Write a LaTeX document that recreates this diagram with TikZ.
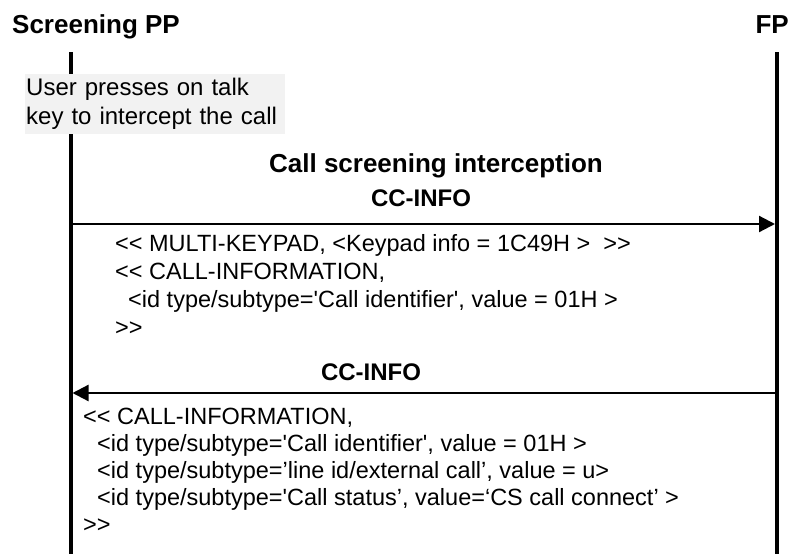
\documentclass[tikz,border=0pt]{standalone}
\usepackage{fontspec}
\setmainfont{Liberation Sans}[Ligatures=TeXOff]
\usetikzlibrary{arrows.meta}
\tikzset{
  lifeline/.style={line width=4pt},
  msg/.style={line width=2.2pt,-{Triangle[length=16pt,width=16pt]}},
  hdr/.style={inner sep=0pt,font=\fontsize{26}{28}\selectfont\bfseries},
  ttl/.style={inner sep=0pt,font=\fontsize{26}{28}\selectfont\bfseries},
  msglabel/.style={inner sep=0pt,font=\fontsize{24}{26}\selectfont\bfseries},
  body/.style={inner sep=0pt,anchor=base west,font=\fontsize{23.5}{26}\selectfont},
  notebox/.style={fill=black!5,inner xsep=1pt,inner ysep=0pt,text width=258pt,minimum height=60pt,
    anchor=north west,align=left,font=\fontsize{24}{29}\selectfont}
}
\begin{document}
\begin{tikzpicture}[x=1pt,y=-1pt]
\useasboundingbox (0,0) rectangle (790,554);
% headers
\node[hdr,anchor=base west] (pp) at (12,33) {Screening PP};
\node[hdr,anchor=base east] (fp) at (789,33) {FP};
% lifelines
\coordinate (ltop) at (70.5,52);
\coordinate (lbot) at (70.5,554);
\coordinate (rtop) at (777,52);
\coordinate (rbot) at (777,554);
\draw[lifeline] (ltop) -- (lbot);
\draw[lifeline] (rtop) -- (rbot);
% note
\node[notebox] (note) at (25,74) {User presses on talk\\key to intercept the call};
% title
\node[ttl] (title) at (436,166) {Call screening interception};
% message 1
\node[msglabel] (m1) at (421,198) {CC-INFO};
\coordinate (a1s) at (70.5,224);
\coordinate (a1e) at (775,224);
\draw[msg] (a1s) -- (a1e);
\node[body] (b11) at (115,251) {<< MULTI-KEYPAD, <Keypad info = 1C49H >\ \ >>};
\node[body] (b12) at (115,279) {<< CALL-INFORMATION,};
\node[body] (b13) at (128,307) {<id type/subtype='Call identifier', value = 01H >};
\node[body] (b14) at (115,335) {>>};
% message 2
\node[msglabel] (m2) at (371,372) {CC-INFO};
\coordinate (a2s) at (777,393);
\coordinate (a2e) at (72.5,393);
\draw[msg] (a2s) -- (a2e);
\node[body] (b21) at (83,424) {<< CALL-INFORMATION,};
\node[body] (b22) at (97,451) {<id type/subtype='Call identifier', value = 01H >};
\node[body] (b23) at (97,478) {<id type/subtype=’line id/external call’, value = u>};
\node[body] (b24) at (97,505) {<id type/subtype='Call status’, value=‘CS call connect’ >};
\node[body] (b25) at (83,532) {>>};
\end{tikzpicture}
\end{document}
